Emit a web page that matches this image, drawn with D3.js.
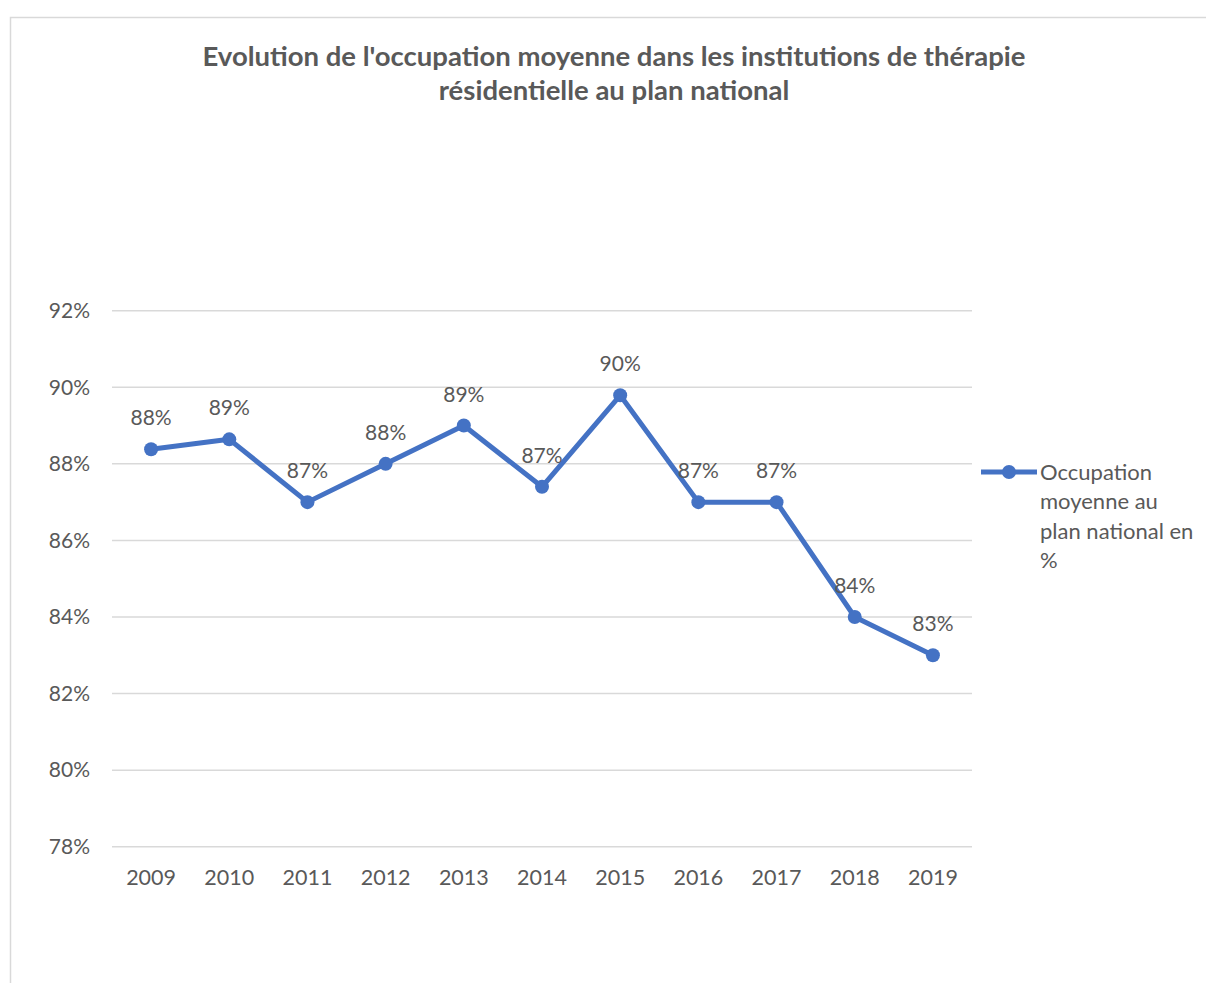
<!DOCTYPE html>
<html>
<head>
<meta charset="utf-8">
<script src="https://cdn.jsdelivr.net/npm/d3@7"></script>
<style>
  body { margin: 0; background: #fff; }
  svg text { font-family: Lato, "Open Sans", sans-serif; fill: #595959; }
</style>
</head>
<body>
<svg id="chart" width="1206" height="983"></svg>
<script>
var years = ["2009", "2010", "2011", "2012", "2013", "2014", "2015", "2016", "2017", "2018", "2019"];
var occupation = [0.8838, 0.8864, 0.870, 0.880, 0.890, 0.874, 0.8979, 0.870, 0.870, 0.840, 0.830];
var yTicks = [0.78, 0.80, 0.82, 0.84, 0.86, 0.88, 0.90, 0.92];
var titleLines = ["Evolution de l'occupation moyenne dans les institutions de thérapie", "résidentielle au plan national"];
var legendLines = ["Occupation", "moyenne au", "plan national en", "%"];

var svg = d3.select("#chart");
var color = "#4472C4";

// chart frame
svg.append("rect")
    .attr("x", 10.5).attr("y", 17.5)
    .attr("width", 1230).attr("height", 990)
    .attr("fill", "none")
    .attr("stroke", "#d9d9d9")
    .attr("stroke-width", 1.5);

var margin = { top: 310.7, left: 112 },
    width = 860,
    height = 536;

var g = svg.append("g")
    .attr("transform", `translate(${margin.left},${margin.top})`);

var xScale = d3.scaleBand()
    .domain(years)
    .range([0, width]);

var yScale = d3.scaleLinear()
    .domain([0.78, 0.92])
    .range([height, 0]);

// title
svg.append("text")
    .attr("x", 614)
    .attr("y", 66)
    .attr("text-anchor", "middle")
    .style("font-size", "27.5px")
    .style("font-weight", "bold")
    .selectAll("tspan")
    .data(titleLines)
    .enter()
    .append("tspan")
    .attr("x", 614)
    .attr("dy", (d, i) => i === 0 ? 0 : 34)
    .text(d => d);

// gridlines
g.append("g")
    .selectAll("line")
    .data(yTicks)
    .enter()
    .append("line")
    .attr("x1", 0).attr("x2", width)
    .attr("y1", d => yScale(d)).attr("y2", d => yScale(d))
    .attr("stroke", "#d9d9d9")
    .attr("stroke-width", 1.5);

// y axis labels
var yAxis = g.append("g")
    .call(d3.axisLeft(yScale).tickValues(yTicks).tickFormat(d3.format(".0%")).tickSize(0).tickPadding(22));
yAxis.select(".domain").remove();
yAxis.selectAll("text").style("font-size", "21px").attr("fill", "#595959");

// x axis labels
var xAxis = g.append("g")
    .attr("transform", `translate(0,${height})`)
    .call(d3.axisBottom(xScale).tickSize(0).tickPadding(23));
xAxis.select(".domain").remove();
xAxis.selectAll("text").style("font-size", "21.5px").attr("fill", "#595959");

// line
var line = d3.line()
    .x((d, i) => xScale(years[i]) + xScale.bandwidth() / 2)
    .y(d => yScale(d));

g.append("path")
    .datum(occupation)
    .attr("fill", "none")
    .attr("stroke", color)
    .attr("stroke-width", 5)
    .attr("stroke-linejoin", "round")
    .attr("d", line);

g.selectAll(".dot")
    .data(occupation)
    .enter()
    .append("circle")
    .attr("cx", (d, i) => xScale(years[i]) + xScale.bandwidth() / 2)
    .attr("cy", d => yScale(d))
    .attr("r", 7)
    .attr("fill", color);

// data labels
g.selectAll(".label")
    .data(occupation)
    .enter()
    .append("text")
    .attr("x", (d, i) => xScale(years[i]) + xScale.bandwidth() / 2)
    .attr("y", d => yScale(d) - 24)
    .attr("text-anchor", "middle")
    .style("font-size", "21px")
    .text(d => d3.format(".0%")(d));

// legend
var legend = svg.append("g")
    .attr("transform", "translate(981,472)");
legend.append("line")
    .attr("x1", 0).attr("x2", 56)
    .attr("stroke", color)
    .attr("stroke-width", 5);
legend.append("circle")
    .attr("cx", 28)
    .attr("r", 7)
    .attr("fill", color);
legend.append("text")
    .attr("x", 59)
    .attr("y", 7.5)
    .style("font-size", "22px")
    .selectAll("tspan")
    .data(legendLines)
    .enter()
    .append("tspan")
    .attr("x", 59)
    .attr("dy", (d, i) => i === 0 ? 0 : 29.5)
    .text(d => d);
</script>
</body>
</html>
